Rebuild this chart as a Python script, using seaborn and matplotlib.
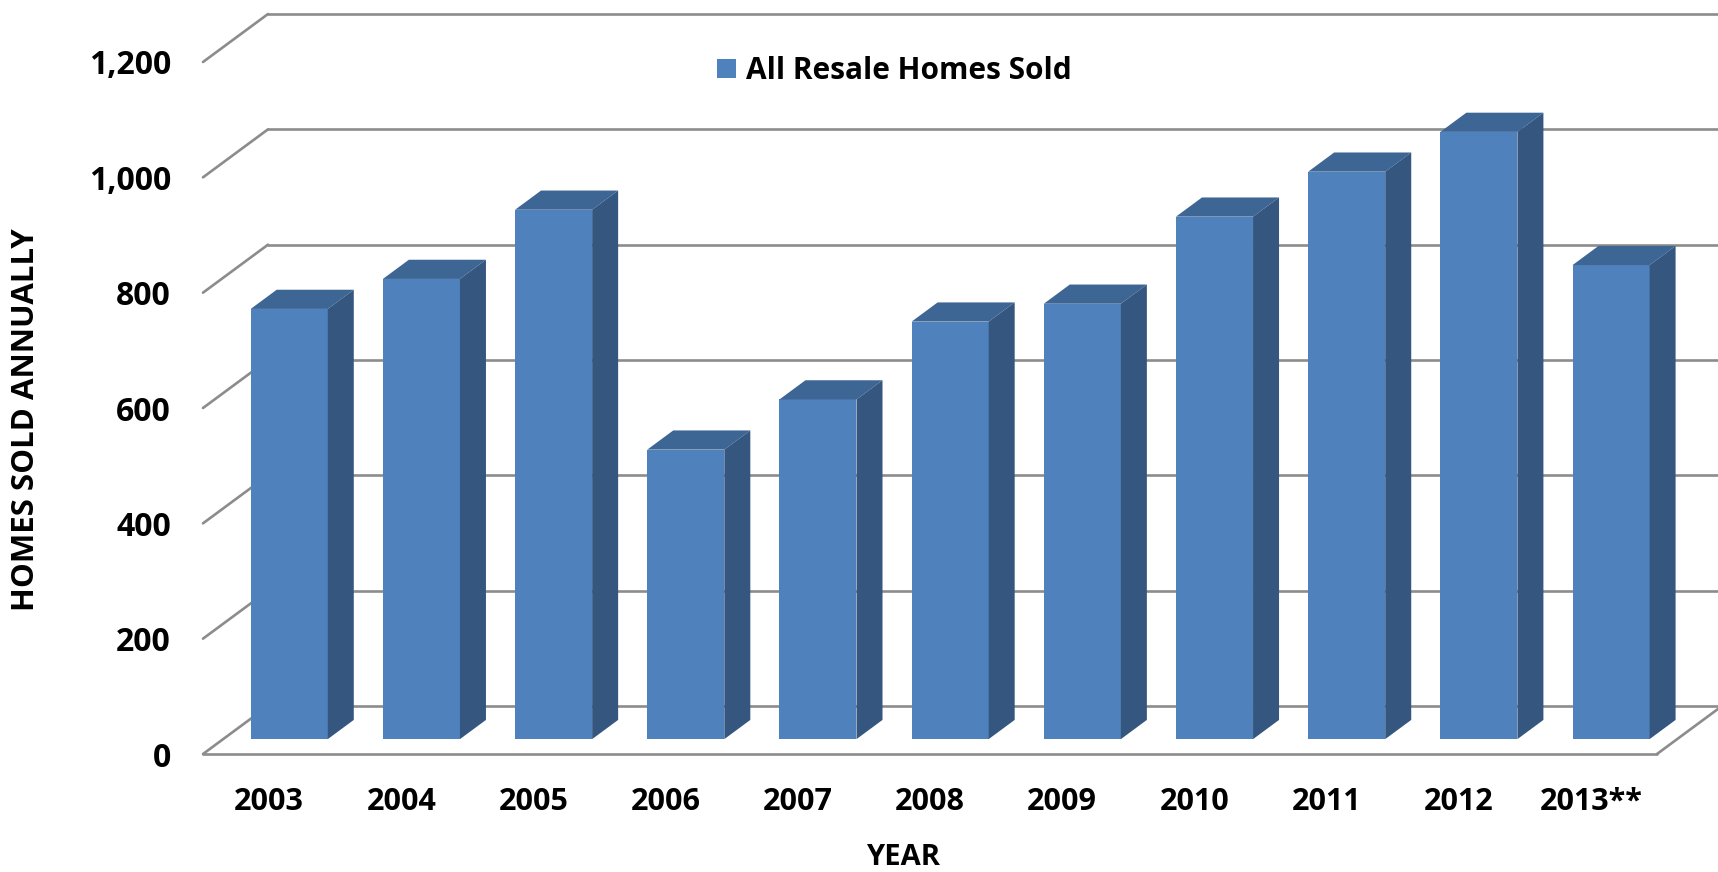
import matplotlib
matplotlib.use("Agg")
import matplotlib.pyplot as plt
from matplotlib.patches import Polygon
import seaborn as sns
import pandas as pd

# Annual resale home sales
years = ["2003", "2004", "2005", "2006", "2007", "2008", "2009",
         "2010", "2011", "2012", "2013**"]
homes_sold = [746, 798, 918, 502, 589, 724, 755, 906, 984, 1053, 822]
y_ticks = [0, 200, 400, 600, 800, 1000, 1200]
series_name = "All Resale Homes Sold"

FRONT = "#4F81BD"
TOP = "#3D6695"
SIDE = "#34567F"
GRID = "#8C8C8C"

sns.set_theme(style="white")
plt.rcParams["font.family"] = ["Open Sans", "DejaVu Sans"]
plt.rcParams["font.weight"] = "bold"
plt.rcParams["text.color"] = "black"
plt.rcParams["axes.labelcolor"] = "black"
plt.rcParams["xtick.color"] = "black"
plt.rcParams["ytick.color"] = "black"

W, H = 1718, 872
fig = plt.figure(figsize=(W / 100, H / 100), dpi=100)
# axes box = front plane of the floor / left wall
ax = fig.add_axes([203 / W, (H - 754) / H, 1454 / W, 692 / H])

df = pd.DataFrame({"year": years, "sold": homes_sold})
sns.barplot(data=df, x="year", y="sold", color=FRONT, saturation=1,
            width=0.583, linewidth=0, ax=ax, label=series_name, zorder=3)
bars = list(ax.patches)

ax.set_xlim(-0.5, 10.5)
ax.set_ylim(0, 1200)
fig.canvas.draw()

# data units per pixel, to turn the oblique depth offset into data space
p0 = ax.transData.transform((0, 0))
p1 = ax.transData.transform((1, 1))
px_x = p1[0] - p0[0]
px_y = p1[1] - p0[1]
depth_dx = 65 / px_x          # full depth of the floor, x in data units
depth_dy = 48 / px_y          # full depth of the floor, y in data units
d_front, d_back = 0.31, 0.71  # depth of the bar front / back faces

line_kw = dict(color=GRID, lw=1.9, clip_on=False, zorder=1,
               solid_capstyle="round")

# back wall gridlines and left wall diagonals
for v in y_ticks:
    ax.plot([-0.5 + depth_dx, 10.5 + depth_dx], [v + depth_dy, v + depth_dy], **line_kw)
    ax.plot([-0.5, -0.5 + depth_dx], [v, v + depth_dy], **line_kw)
# floor front edge and right diagonal
ax.plot([-0.5, 10.5], [0, 0], **line_kw)
ax.plot([10.5, 10.5 + depth_dx], [0, depth_dy], **line_kw)

# extrude each bar: shift front face into depth, add top and side faces
ddx = (d_back - d_front) * depth_dx
ddy = (d_back - d_front) * depth_dy
for p in bars:
    x0 = p.get_x() + d_front * depth_dx
    y0 = d_front * depth_dy
    w = p.get_width()
    h = p.get_height()
    p.set_x(x0)
    p.set_y(y0)
    p.set_clip_on(False)
    top = [(x0, y0 + h), (x0 + w, y0 + h),
           (x0 + w + ddx, y0 + h + ddy), (x0 + ddx, y0 + h + ddy)]
    side = [(x0 + w, y0), (x0 + w, y0 + h),
            (x0 + w + ddx, y0 + h + ddy), (x0 + w + ddx, y0 + ddy)]
    ax.add_patch(Polygon(top, closed=True, facecolor=TOP, edgecolor="none",
                         zorder=3, clip_on=False))
    ax.add_patch(Polygon(side, closed=True, facecolor=SIDE, edgecolor="none",
                         zorder=3, clip_on=False))

for s in ax.spines.values():
    s.set_visible(False)
ax.set_facecolor("none")
ax.grid(False)

ax.set_yticks(y_ticks)
ax.set_yticklabels([f"{v:,}" for v in y_ticks])
ax.tick_params(axis="y", length=0, pad=23, labelsize=23)
ax.tick_params(axis="x", length=0, pad=24, labelsize=22)
for t in ax.get_xticklabels() + ax.get_yticklabels():
    t.set_fontweight("bold")

ax.set_xlabel("YEAR", fontsize=21, fontweight="bold", va="center")
ax.xaxis.set_label_coords((903 - 203) / 1454, (754 - 857) / 692)
ax.set_ylabel("HOMES SOLD ANNUALLY", fontsize=22.5, fontweight="bold",
              va="center")
ax.yaxis.set_label_coords((26 - 203) / 1454, (754 - 420) / 692)

leg = ax.legend(loc="center left", bbox_to_anchor=(717 / W, 1 - 71 / H),
                bbox_transform=fig.transFigure, frameon=False,
                borderpad=0, borderaxespad=0, handlelength=0.65,
                handleheight=0.65, handletextpad=0.33,
                prop={"size": 21.5, "weight": "bold"})

fig.savefig("out.png", dpi=100, facecolor="white")
